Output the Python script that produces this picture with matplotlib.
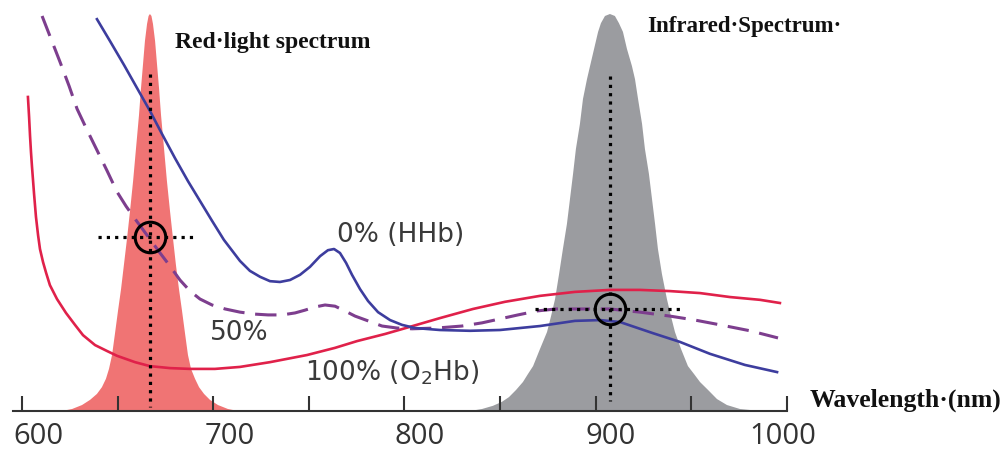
import matplotlib
matplotlib.use("Agg")
import matplotlib.pyplot as plt
from matplotlib.transforms import ScaledTranslation

# ---------------- data (wavelength in nm, absorbance in arbitrary units) ----------------
hhb_wl = [639.2, 646.0, 653.3, 660.1, 666.9, 673.2, 680.0, 686.8, 693.1, 699.4, 705.6,
          714.0, 719.2, 724.5, 729.7, 734.9, 740.2, 745.4, 750.6, 755.9, 760.0,
          763.2, 766.3, 769.5, 772.6, 776.8, 781.0, 786.2, 792.5, 798.7, 805.5,
          818.6, 834.3, 850.0, 870.9, 889.2, 902.3, 912.8, 930.0, 944.1, 959.8,
          978.1, 994.9]
hhb_abs = [0.987, 0.932, 0.872, 0.814, 0.756, 0.698, 0.637, 0.579, 0.529, 0.479, 0.431,
           0.378, 0.353, 0.338, 0.327, 0.325, 0.330, 0.343, 0.363, 0.390, 0.405,
           0.408, 0.398, 0.373, 0.343, 0.307, 0.277, 0.249, 0.229, 0.217, 0.209,
           0.204, 0.202, 0.204, 0.214, 0.227, 0.229, 0.224, 0.196, 0.174, 0.144,
           0.116, 0.098]

mix_wl = [610.5, 615.2, 619.9, 624.6, 628.8, 634.0, 639.2, 644.5, 649.7, 654.4,
          659.1, 666.9, 672.2, 677.4, 682.6, 687.9, 693.1, 699.4, 706.2, 714.0,
          721.9, 728.7, 736.0, 742.8, 748.0, 753.2, 758.5, 763.7, 768.9, 774.2,
          781.0, 788.3, 796.1, 804.0, 817.0, 830.1, 840.6, 850.0, 859.4, 869.4,
          879.3, 889.2, 907.5, 923.2, 938.9, 952.0, 965.1, 980.8, 995.4]
mix_abs = [0.995, 0.937, 0.879, 0.819, 0.761, 0.708, 0.657, 0.605, 0.552, 0.516,
           0.484, 0.433, 0.398, 0.365, 0.330, 0.302, 0.282, 0.267, 0.257, 0.249,
           0.244, 0.242, 0.242, 0.247, 0.254, 0.262, 0.267, 0.264, 0.252, 0.239,
           0.227, 0.214, 0.209, 0.207, 0.209, 0.214, 0.222, 0.232, 0.242, 0.252,
           0.257, 0.257, 0.257, 0.249, 0.239, 0.229, 0.217, 0.202, 0.184]

o2hb_wl = [603.1, 603.7, 604.2, 604.7, 605.2, 606.3, 607.3, 608.4, 609.4, 611.0,
           612.6, 614.6, 618.3, 623.0, 627.7, 631.9, 638.2, 644.5, 649.7, 659.1,
           666.9, 677.4, 687.9, 700.9, 714.0, 729.7, 749.1, 763.7, 775.2, 789.9,
           802.9, 818.6, 835.9, 852.6, 870.9, 889.2, 907.5, 923.2, 938.9, 954.6,
           970.3, 986.0, 996.4]
o2hb_abs = [0.791, 0.741, 0.693, 0.652, 0.617, 0.547, 0.489, 0.443, 0.408, 0.375,
            0.348, 0.317, 0.282, 0.247, 0.217, 0.191, 0.166, 0.151, 0.139, 0.123,
            0.113, 0.108, 0.106, 0.106, 0.111, 0.123, 0.141, 0.159, 0.176, 0.194,
            0.212, 0.234, 0.257, 0.275, 0.290, 0.300, 0.305, 0.305, 0.302, 0.297,
            0.287, 0.280, 0.272]

red_spec_wl = [620.9, 626.2, 631.4, 635.6, 639.2, 641.8, 643.9, 645.5, 647.1, 648.6,
               650.2, 651.8, 653.3, 654.9, 656.5, 658.1, 659.6, 661.2, 662.2, 663.3,
               664.3, 665.4, 666.2, 666.9, 667.7, 668.5, 669.6, 670.6, 671.7, 672.7,
               674.3, 675.8, 677.4, 679.0, 680.5, 682.1, 683.7, 685.3, 686.8, 688.4,
               690.5, 692.6, 695.2, 698.3, 702.5, 707.7, 713.0]
red_spec_int = [0.0, 0.005, 0.015, 0.028, 0.043, 0.060, 0.081, 0.106, 0.141, 0.194,
                0.252, 0.307, 0.368, 0.433, 0.504, 0.579, 0.660, 0.746, 0.811, 0.874,
                0.932, 0.975, 0.995, 1.0, 0.995, 0.975, 0.932, 0.874, 0.811, 0.746,
                0.660, 0.579, 0.504, 0.433, 0.368, 0.307, 0.252, 0.194, 0.141, 0.106,
                0.081, 0.060, 0.043, 0.028, 0.015, 0.005, 0.0]

ir_spec_wl = [834.3, 840.6, 846.3, 851.0, 854.7, 858.4, 862.0, 864.6, 867.3, 870.9,
              874.6, 876.7, 878.8, 880.9, 882.9, 885.0, 886.6, 888.2, 889.7, 891.8,
              893.4, 895.5, 897.1, 899.2, 901.3, 902.8, 904.9, 907.5, 910.1, 912.2,
              914.3, 916.4, 919.0, 920.6, 922.2, 924.3, 925.8, 927.9, 929.5, 931.1,
              932.6, 934.7, 937.3, 939.4, 941.5, 944.7, 948.3, 951.5, 954.6, 958.8,
              963.5, 968.7, 975.5, 986.0]
ir_spec_int = [0.0, 0.005, 0.013, 0.023, 0.035, 0.053, 0.073, 0.093, 0.113, 0.156,
               0.199, 0.239, 0.282, 0.345, 0.408, 0.471, 0.534, 0.597, 0.660, 0.723,
               0.786, 0.836, 0.869, 0.912, 0.955, 0.977, 0.995, 1.0, 0.995, 0.977,
               0.955, 0.912, 0.869, 0.836, 0.786, 0.723, 0.660, 0.597, 0.534, 0.471,
               0.408, 0.345, 0.282, 0.239, 0.199, 0.156, 0.113, 0.093, 0.073, 0.053,
               0.030, 0.015, 0.005, 0.0]

red_marker_wl = 666.9
red_marker_abs = 0.438
ir_marker_wl = 907.5
ir_marker_abs = 0.257

major_ticks = [600, 700, 800, 900, 1000]
minor_ticks = [650, 750, 850, 950]
tick_labels = ["600", "700", "800", "900", "1000"]

# ---------------- figure ----------------
plt.rcParams["mathtext.fontset"] = "dejavusans"
fig = plt.figure(figsize=(10.07, 4.52), dpi=100)
ax = fig.add_axes([0, 0, 1, 1])
ax.set_xlim(588.49, 1115.17)
ax.set_ylim(-0.1008, 1.0378)

for s in ["top", "left", "right"]:
    ax.spines[s].set_visible(False)
ax.spines["bottom"].set_position(("data", 0))
ax.spines["bottom"].set_bounds(595.3, 1000)
ax.spines["bottom"].set_linewidth(1.5)
ax.spines["bottom"].set_color("#333333")
ax.spines["bottom"].set_zorder(6)
ax.set_yticks([])

ax.set_xticks(major_ticks)
ax.set_xticks(minor_ticks, minor=True)
ax.set_xticklabels(tick_labels, fontfamily="Open Sans", fontsize=21, color="#333333")
ax.tick_params(axis="x", which="both", direction="in", length=11, width=1.5,
               color="#333333", pad=7)
label_offsets_px = [16, 17, 15, 15, -4]
for lab, off in zip(ax.get_xticklabels(), label_offsets_px):
    lab.set_transform(lab.get_transform() + ScaledTranslation(off / 100, 0, fig.dpi_scale_trans))

# spectra
ax.fill(red_spec_wl, red_spec_int, color="#f07474", lw=0, zorder=1)
ax.fill(ir_spec_wl, ir_spec_int, color="#9b9ca0", lw=0, zorder=1)

# absorption curves
ax.plot(o2hb_wl, o2hb_abs, color="#e0214a", lw=1.9, zorder=3)
ax.plot(mix_wl, mix_abs, color="#7d3e8e", lw=2.2, dashes=(7, 3.5), zorder=3)
ax.plot(hhb_wl, hhb_abs, color="#3d3d9e", lw=1.9, zorder=3)

# dotted guide lines
dot = dict(color="black", lw=2.3, dashes=(1, 1.6), dash_capstyle="butt", zorder=4)
ax.plot([red_marker_wl, red_marker_wl], [0.849, 0.010], **dot)
ax.plot([639.7, 689.4], [red_marker_abs, red_marker_abs], **dot)
ax.plot([ir_marker_wl, ir_marker_wl], [0.844, 0.025], **dot)
ax.plot([868.3, 945.2], [ir_marker_abs, ir_marker_abs], **dot)

ax.plot([red_marker_wl, ir_marker_wl], [red_marker_abs, ir_marker_abs], "o", ms=22,
        mfc="none", mec="black", mew=2.2, zorder=5)

# texts
serif = ["Liberation Serif", "DejaVu Serif"]
ax.text(680.0, 0.932, "Red·light spectrum", family=serif, weight="bold", fontsize=17,
        ha="left", va="center", color="#111111")
ax.text(926.9, 0.970, "Infrared·Spectrum·", family=serif, weight="bold", fontsize=16.5,
        ha="left", va="center", color="#111111")
ax.text(1012.1, 0.030, "Wavelength·(nm)", family=serif, weight="bold", fontsize=18.5,
        ha="left", va="center", color="#111111")

lab_kw = dict(family="DejaVu Sans", fontsize=19, color="#3a3a3a", ha="left", va="center")
ax.text(764.7, 0.446, "0% (HHb)", **lab_kw)
ax.text(698.3, 0.199, "50%", **lab_kw)
ax.text(748.0, 0.098, "100% (O$_2$Hb)", **lab_kw)

fig.savefig("out.png", dpi=100)
